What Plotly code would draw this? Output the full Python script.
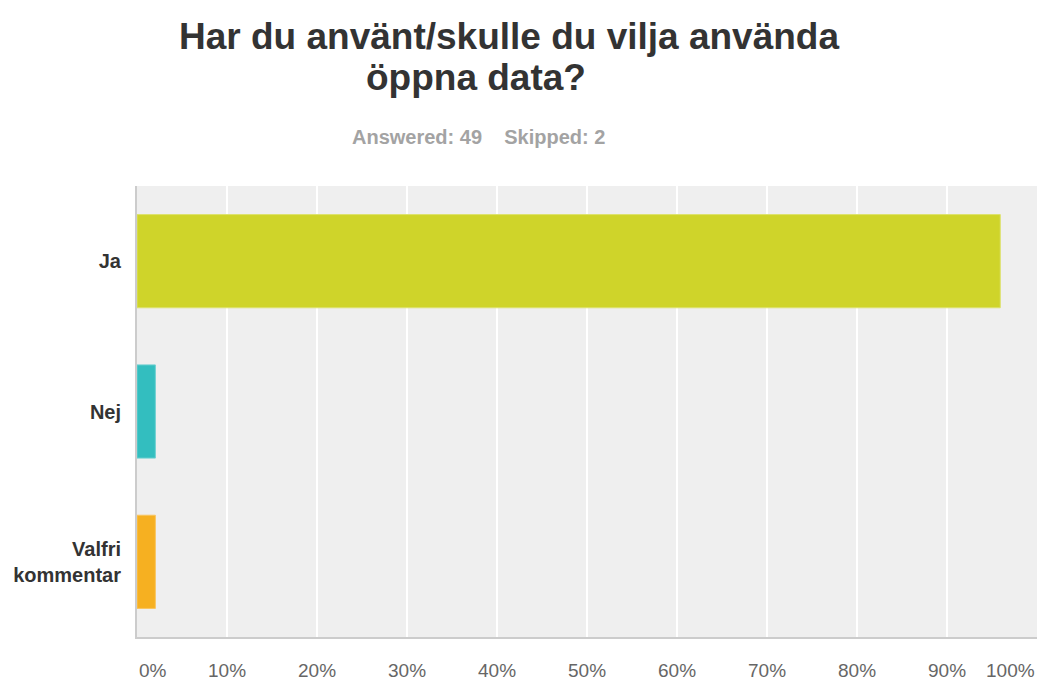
import plotly.graph_objects as go

categories = ["Ja", "Nej", "Valfri<br>kommentar"]
percent_values = [95.92, 2.04, 2.04]
bar_colors = ["#CFD42A", "#33BEBF", "#F6B021"]
bar_edges = ["#DDE26C", "#6FD0D1", "#F9C560"]
tick_values = [0, 10, 20, 30, 40, 50, 60, 70, 80, 90, 100]
tick_labels = ["0%", "10%", "20%", "30%", "40%", "50%", "60%", "70%", "80%", "90%", "100%"]
title_line1 = "Har du använt/skulle du vilja använda"
title_line2 = "öppna data?"
answered_text = "Answered: 49&nbsp;&nbsp;&nbsp;&nbsp;Skipped: 2"

W, H = 1039, 682
L, R, T, B = 137, 2, 186, 45
pw, ph = W - L - R, H - T - B

def px_to_paper(x, y):
    return (x - L) / pw, (H - B - y) / ph

fig = go.Figure()
fig.add_trace(go.Bar(
    x=percent_values, y=categories, orientation="h",
    marker=dict(color=bar_colors, line=dict(color=bar_edges, width=1)),
    width=0.62, hoverinfo="x+y",
))

font_family = "Liberation Sans, Arial, sans-serif"
annotations = []
x1, y1 = px_to_paper(509, 36)
annotations.append(dict(text="<b>" + title_line1 + "</b>", x=x1, y=y1, xref="paper", yref="paper",
                        xanchor="center", yanchor="middle", showarrow=False,
                        font=dict(size=37, color="#333333", family=font_family)))
x2, y2 = px_to_paper(476, 78)
annotations.append(dict(text="<b>" + title_line2 + "</b>", x=x2, y=y2, xref="paper", yref="paper",
                        xanchor="center", yanchor="middle", showarrow=False,
                        font=dict(size=37, color="#333333", family=font_family)))
x3, y3 = px_to_paper(478, 137)
annotations.append(dict(text="<b>" + answered_text + "</b>", x=x3, y=y3, xref="paper", yref="paper",
                        xanchor="center", yanchor="middle", showarrow=False,
                        font=dict(size=20, color="#A3A3A3", family=font_family)))

for v, t in zip(tick_values, tick_labels):
    anchor = "left" if v == tick_values[0] else ("right" if v == tick_values[-1] else "center")
    annotations.append(dict(text=t, x=v, y=0, xref="x", yref="paper", xanchor=anchor,
                            yanchor="middle", yshift=-33, showarrow=False,
                            font=dict(size=19, color="#666666", family=font_family)))

fig.update_layout(
    width=W, height=H,
    margin=dict(l=L, r=R, t=T, b=B, pad=0),
    paper_bgcolor="white", plot_bgcolor="#EFEFEF",
    showlegend=False,
    annotations=annotations,
    xaxis=dict(range=[0, 100], tickvals=tick_values, showticklabels=False,
               showgrid=True, gridcolor="white", gridwidth=2, zeroline=False,
               showline=True, linecolor="#CCCCCC", linewidth=2, ticks="", fixedrange=True),
    yaxis=dict(autorange="reversed", showgrid=False, zeroline=False,
               showline=True, linecolor="#CCCCCC", linewidth=2, ticks="outside",
               ticklen=10, tickcolor="rgba(0,0,0,0)",
               tickfont=dict(size=20, color="#333333", family=font_family, weight="bold"),
               fixedrange=True),
)

fig.write_html("out.html", config={"displayModeBar": False},
               post_script="document.body.style.margin='0';document.body.style.overflow='hidden';")
